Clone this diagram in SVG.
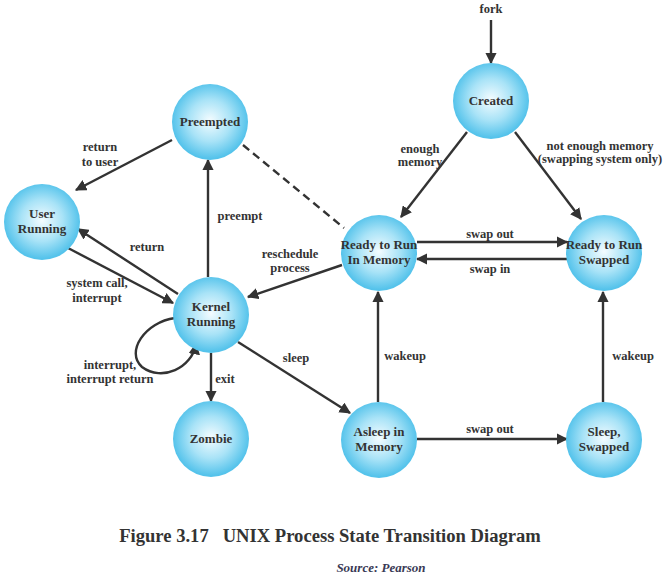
<svg xmlns="http://www.w3.org/2000/svg" width="667" height="578" viewBox="0 0 667 578">
<defs>
<radialGradient id="g" cx="50%" cy="48%" r="50%">
<stop offset="0" stop-color="#f4fcff"/>
<stop offset="0.55" stop-color="#a9e3f7"/>
<stop offset="1" stop-color="#55c3eb"/>
</radialGradient>
<marker id="a" viewBox="0 0 10 10" refX="9" refY="5" markerWidth="4.8" markerHeight="4.8" orient="auto" markerUnits="strokeWidth">
<path d="M0,0 L10,5 L0,10 Z" fill="#333"/>
</marker>
<style>
.n{fill:url(#g);}
.t{font-family:"Liberation Serif",serif;font-weight:bold;font-size:13px;fill:#333;text-anchor:middle;}
.l{font-family:"Liberation Serif",serif;font-weight:bold;font-size:12.5px;fill:#333;text-anchor:middle;}
.e{fill:none;stroke:#333;stroke-width:2.4;marker-end:url(#a);}
</style>
</defs>
<rect width="667" height="578" fill="#fff"/>
<g id="connectors">
<line class="e" x1="491" y1="20" x2="491" y2="63"/>
<line class="e" x1="467" y1="132" x2="401" y2="217"/>
<line class="e" x1="515" y1="132" x2="581" y2="219"/>
<line class="e" x1="417" y1="242" x2="567" y2="242"/>
<line class="e" x1="567" y1="259" x2="417" y2="259"/>
<line class="e" x1="342" y1="265" x2="248" y2="297"/>
<line x1="243" y1="145" x2="344" y2="228" stroke="#333" stroke-width="2.4" stroke-dasharray="8,5"/>
<line class="e" x1="208" y1="277" x2="208" y2="160"/>
<line class="e" x1="172" y1="140" x2="76" y2="190"/>
<line class="e" x1="178" y1="294" x2="78" y2="229"/>
<line class="e" x1="68" y1="248" x2="173" y2="303"/>
<path class="e" d="M175,318 C145,322 125,352 142,367 C162,382 192,368 196,344"/>
<line class="e" x1="211" y1="353" x2="211" y2="401"/>
<line class="e" x1="238" y1="342" x2="350" y2="413"/>
<line class="e" x1="378" y1="402" x2="378" y2="292"/>
<line class="e" x1="417" y1="439" x2="567" y2="439"/>
<line class="e" x1="603" y1="402" x2="603" y2="292"/>
</g>
<g id="labels">
<text class="l" x="491" y="13">fork</text>
<text class="l" x="420" y="153">enough</text>
<text class="l" x="420" y="166">memory</text>
<text class="l" x="600" y="150">not enough memory</text>
<text class="l" x="600" y="163">(swapping system only)</text>
<text class="l" x="490" y="238">swap out</text>
<text class="l" x="490" y="273">swap in</text>
<text class="l" x="290" y="258">reschedule</text>
<text class="l" x="290" y="272">process</text>
<text class="l" x="240" y="220">preempt</text>
<text class="l" x="100" y="151">return</text>
<text class="l" x="100" y="166">to user</text>
<text class="l" x="147" y="251">return</text>
<text class="l" x="97" y="287">system call,</text>
<text class="l" x="97" y="302">interrupt</text>
<text class="l" x="110" y="369">interrupt,</text>
<text class="l" x="110" y="383">interrupt return</text>
<text class="l" x="225" y="383">exit</text>
<text class="l" x="296" y="362">sleep</text>
<text class="l" x="405" y="360">wakeup</text>
<text class="l" x="490" y="433">swap out</text>
<text class="l" x="633" y="360">wakeup</text>
</g>
<g id="created"><circle class="n" cx="491" cy="101" r="38"/><text class="t" x="491" y="105">Created</text></g>
<g id="preempted"><circle class="n" cx="210" cy="122" r="38"/><text class="t" x="210" y="126">Preempted</text></g>
<g id="user-running"><circle class="n" cx="42" cy="222" r="38"/><text class="t" x="42" y="218">User</text><text class="t" x="42" y="233">Running</text></g>
<g id="ready-memory"><circle class="n" cx="379" cy="253" r="38"/><text class="t" x="379" y="249">Ready to Run</text><text class="t" x="379" y="264">In Memory</text></g>
<g id="ready-swapped"><circle class="n" cx="604" cy="253" r="38"/><text class="t" x="604" y="249">Ready to Run</text><text class="t" x="604" y="264">Swapped</text></g>
<g id="kernel-running"><circle class="n" cx="211" cy="315" r="38"/><text class="t" x="211" y="311">Kernel</text><text class="t" x="211" y="326">Running</text></g>
<g id="zombie"><circle class="n" cx="211" cy="439" r="38"/><text class="t" x="211" y="443">Zombie</text></g>
<g id="asleep-memory"><circle class="n" cx="379" cy="440" r="38"/><text class="t" x="379" y="436">Asleep in</text><text class="t" x="379" y="451">Memory</text></g>
<g id="sleep-swapped"><circle class="n" cx="604" cy="440" r="38"/><text class="t" x="604" y="436">Sleep,</text><text class="t" x="604" y="451">Swapped</text></g>
<text x="330" y="542" font-family="'Liberation Serif',serif" font-weight="bold" font-size="18.6" fill="#333" text-anchor="middle" xml:space="preserve">Figure 3.17   UNIX Process State Transition Diagram</text>
<text x="381" y="572" font-family="'Liberation Serif',serif" font-weight="bold" font-style="italic" font-size="13" fill="#3a3a55" text-anchor="middle">Source: Pearson</text>
</svg>
